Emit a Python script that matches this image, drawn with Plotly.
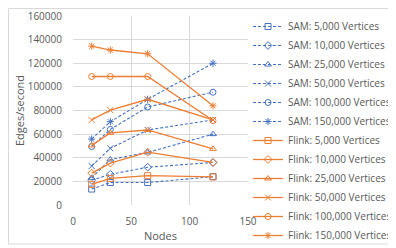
import plotly.graph_objects as go

nodes = [16, 32, 64, 120]

sam_5k = [13500, 19000, 19000, 24000]
sam_10k = [21000, 26000, 32000, 36000]
sam_25k = [23000, 38500, 44500, 60000]
sam_50k = [33000, 48000, 63500, 72000]
sam_100k = [49500, 64000, 83000, 95500]
sam_150k = [55800, 70500, 89500, 120000]

flink_5k = [17500, 22500, 24800, 23800]
flink_10k = [27000, 35500, 44800, 36000]
flink_25k = [50500, 61000, 63500, 47500]
flink_50k = [72000, 80300, 89500, 72000]
flink_100k = [108800, 108800, 108800, 71500]
flink_150k = [134500, 131200, 128000, 84000]

labels = ["5,000", "10,000", "25,000", "50,000", "100,000", "150,000"]
symbols = ["square-open", "diamond-open", "triangle-up-open", "x-thin-open", "circle-open", "asterisk-open"]
sam_series = [sam_5k, sam_10k, sam_25k, sam_50k, sam_100k, sam_150k]
flink_series = [flink_5k, flink_10k, flink_25k, flink_50k, flink_100k, flink_150k]

BLUE = "#4472C4"
ORANGE = "#ED7D31"

fig = go.Figure()
for lab, sym, ys in zip(labels, symbols, sam_series):
    fig.add_trace(go.Scatter(
        x=nodes, y=ys, mode="lines+markers", name=f"SAM: {lab} Vertices",
        line=dict(color=BLUE, width=1.1, dash="3px,2px"),
        marker=dict(symbol=sym, size=6, color=BLUE, line=dict(color=BLUE, width=1)),
    ))
for lab, sym, ys in zip(labels, symbols, flink_series):
    fig.add_trace(go.Scatter(
        x=nodes, y=ys, mode="lines+markers", name=f"Flink: {lab} Vertices",
        line=dict(color=ORANGE, width=1.3),
        marker=dict(symbol=sym, size=6, color=ORANGE, line=dict(color=ORANGE, width=1)),
    ))

TXT = "#595959"
GRID = "#d9d9d9"
W, H = 388, 240
L, T, PW, PH = 65, 8, 175, 189
fig.update_layout(
    width=W, height=H,
    margin=dict(l=L, r=W - L - PW, t=T, b=H - T - PH, autoexpand=False),
    paper_bgcolor="white", plot_bgcolor="white",
    font=dict(family="Open Sans, sans-serif", size=10, color=TXT),
    showlegend=True,
    legend=dict(x=1.0, y=(T + PH - 4) / PH, xanchor="left", yanchor="top",
                font=dict(family="Open Sans", size=10, color=TXT), itemwidth=30,
                maxheight=400,
                bgcolor="rgba(0,0,0,0)", tracegroupgap=0),
    xaxis=dict(range=[0, 150], tickvals=[0, 50, 100, 150], showgrid=True, gridcolor=GRID,
               gridwidth=1, zeroline=False, showline=False,
               ticks="outside", ticklen=7, tickcolor="rgba(0,0,0,0)",
               title=dict(text="Nodes", font=dict(size=11, color=TXT), standoff=5),
               tickfont=dict(size=10, color=TXT)),
    yaxis=dict(range=[0, 160000], tickvals=list(range(0, 160001, 20000)),
               ticktext=[str(v) for v in range(0, 160001, 20000)],
               showgrid=True, gridcolor=GRID, gridwidth=1, zeroline=False, showline=False,
               ticks="outside", ticklen=8, tickcolor="rgba(0,0,0,0)",
               title=dict(text="Edges/second", font=dict(size=11, color=TXT), standoff=0),
               tickfont=dict(size=10, color=TXT)),
    shapes=[dict(type="rect", xref="paper", yref="paper",
                 x0=(0.5 - L) / PW, x1=(384 - L) / PW,
                 y0=(T + PH - 236) / PH, y1=(T + PH - 0.5) / PH,
                 line=dict(color=GRID, width=1), fillcolor="rgba(0,0,0,0)", layer="below")],
)

fig.write_html("out.html")
